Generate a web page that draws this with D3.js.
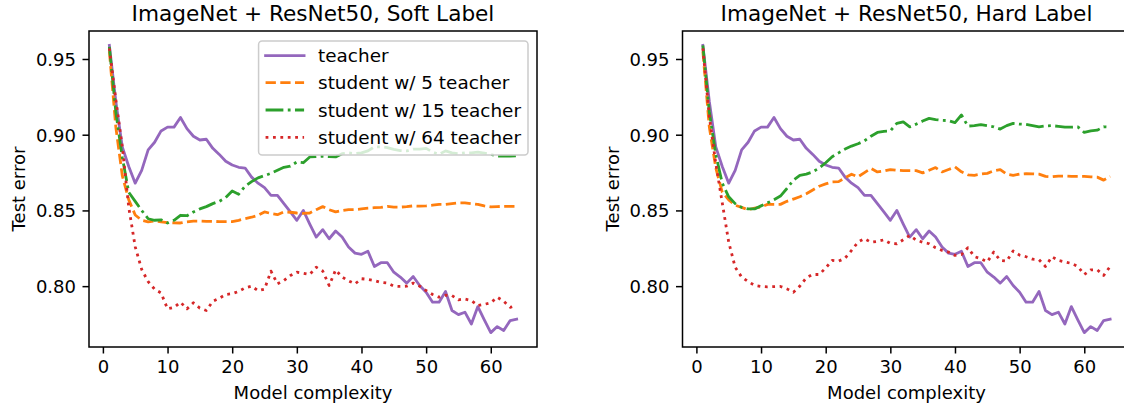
<!DOCTYPE html>
<html>
<head>
<meta charset="utf-8">
<script src="https://cdn.jsdelivr.net/npm/d3@7/dist/d3.min.js"></script>
<style>
  html, body { margin: 0; padding: 0; background: #fff; }
  svg { display: block; font-family: "DejaVu Sans", sans-serif; }
</style>
</head>
<body>
<svg id="chart" width="1124" height="406"></svg>
<script>
// ---------------- DATA ----------------
const complexity = d3.range(1, 65);

const teacher = [0.959,0.922,0.892,0.879,0.868,0.8765,0.890,0.895,0.9025,0.905,
  0.905,0.9114,0.904,0.899,0.8965,0.897,0.891,0.887,0.8825,0.880,
  0.8785,0.878,0.872,0.868,0.865,0.860,0.860,0.8545,0.849,0.8435,
  0.850,0.841,0.8324,0.8373,0.8313,0.8364,0.8324,0.8258,0.8218,0.821,
  0.823,0.813,0.8155,0.8155,0.8092,0.806,0.802,0.8064,0.8004,0.796,
  0.7894,0.7894,0.7965,0.7839,0.7812,0.7828,0.775,0.7865,0.7777,0.7693,
  0.7733,0.7707,0.7773,0.7782];

const softStudent5 = [0.955,0.905,0.873,0.857,0.847,0.8435,0.8425,0.843,0.8425,0.842,
  0.8418,0.8417,0.8425,0.843,0.843,0.8428,0.8428,0.8426,0.8426,0.8426,
  0.8435,0.8446,0.8455,0.8468,0.849,0.848,0.8472,0.849,0.8488,0.8483,
  0.848,0.8483,0.8505,0.8525,0.8505,0.849,0.850,0.8505,0.8505,0.851,
  0.8515,0.8518,0.852,0.8527,0.8522,0.8522,0.8525,0.853,0.8528,0.853,
  0.8535,0.854,0.854,0.8545,0.855,0.855,0.8545,0.854,0.853,0.8523,
  0.8525,0.8527,0.8527,0.8527];

const softStudent15 = [0.958,0.915,0.885,0.862,0.856,0.850,0.8445,0.8435,0.8438,0.8417,
  0.8435,0.8468,0.8465,0.849,0.851,0.8525,0.8545,0.856,0.8585,0.8628,
  0.8607,0.866,0.869,0.8715,0.873,0.8745,0.8765,0.8785,0.8792,0.882,
  0.8815,0.8853,0.8855,0.8858,0.8855,0.8853,0.8875,0.888,0.8875,0.888,
  0.8893,0.892,0.892,0.8915,0.8903,0.8895,0.8893,0.8905,0.8905,0.891,
  0.8885,0.8871,0.8893,0.888,0.8875,0.888,0.888,0.8885,0.8878,0.887,
  0.8858,0.8858,0.8858,0.886];

const softStudent64 = [0.957,0.923,0.892,0.852,0.826,0.811,0.803,0.798,0.7955,0.785,
  0.786,0.7894,0.785,0.789,0.7855,0.7839,0.790,0.792,0.7945,0.795,
  0.7965,0.7989,0.800,0.797,0.798,0.8099,0.8015,0.8037,0.807,0.8092,
  0.8085,0.8077,0.8125,0.810,0.8004,0.8107,0.806,0.8035,0.8015,0.8049,
  0.8045,0.8037,0.8025,0.802,0.800,0.7998,0.800,0.802,0.800,0.7971,
  0.7945,0.7927,0.794,0.7938,0.791,0.7915,0.7905,0.7872,0.788,0.789,
  0.7927,0.790,0.786,0.7872];

const hardStudent5 = [0.955,0.905,0.878,0.862,0.857,0.8534,0.852,0.8505,0.8515,0.8523,
  0.854,0.854,0.854,0.856,0.8575,0.859,0.861,0.8635,0.866,0.8675,
  0.8688,0.869,0.8715,0.8739,0.8722,0.875,0.8777,0.8754,0.876,0.877,
  0.8765,0.8763,0.8763,0.8763,0.8748,0.8765,0.8783,0.8754,0.877,0.8787,
  0.8755,0.8735,0.8732,0.874,0.8745,0.8762,0.877,0.874,0.8732,0.874,
  0.8743,0.8742,0.874,0.8725,0.8722,0.8727,0.8727,0.8725,0.8725,0.8725,
  0.8722,0.872,0.870,0.8725];

const hardStudent15 = [0.959,0.915,0.887,0.868,0.859,0.8545,0.852,0.851,0.851,0.853,
  0.855,0.857,0.8595,0.8645,0.870,0.8732,0.874,0.8755,0.878,0.8815,
  0.8855,0.888,0.8905,0.8925,0.894,0.896,0.899,0.9015,0.9022,0.9025,
  0.9075,0.9085,0.9052,0.907,0.909,0.9108,0.910,0.9095,0.9093,0.908,
  0.913,0.9057,0.906,0.9067,0.906,0.9052,0.9037,0.906,0.9075,0.907,
  0.9068,0.906,0.9052,0.9058,0.906,0.9055,0.905,0.905,0.9052,0.9015,
  0.9025,0.903,0.9052,0.905];

const hardStudent64 = [0.957,0.912,0.881,0.855,0.829,0.8125,0.806,0.803,0.8005,0.7998,
  0.7995,0.7997,0.7998,0.7982,0.796,0.800,0.8055,0.8077,0.8077,0.812,
  0.817,0.8165,0.8185,0.8236,0.8291,0.8313,0.829,0.8295,0.8306,0.8282,
  0.828,0.8306,0.8335,0.8304,0.829,0.828,0.8254,0.8236,0.8225,0.8203,
  0.8208,0.8254,0.8195,0.8181,0.816,0.8225,0.817,0.8165,0.8232,0.8205,
  0.8194,0.8178,0.8175,0.813,0.8194,0.817,0.816,0.815,0.813,0.8077,
  0.8108,0.8108,0.8071,0.813];

const seriesNames = ["teacher", "student w/ 5 teacher", "student w/ 15 teacher", "student w/ 64 teacher"];
const panelTitles = ["ImageNet + ResNet50, Soft Label", "ImageNet + ResNet50, Hard Label"];
const xTicks = [0, 10, 20, 30, 40, 50, 60];
const yTicks = [0.80, 0.85, 0.90, 0.95];
const xLabel = "Model complexity";
const yLabel = "Test error";

// ---------------- STYLE ----------------
const colors = ["#9467bd", "#ff7f0e", "#2ca02c", "#d62728"];
const dashes = [null, "10.3,4.4", "17.8,4.4,2.8,4.4", "2.8,4.6"];
const lw = 2.8;
const fontSize = 18;
const legendFont = 18.4;
const titleSize = 21.6;

const panels = [
  { left: 89, series: [teacher, softStudent5, softStudent15, softStudent64], legend: true },
  { left: 682.5, series: [teacher, hardStudent5, hardStudent15, hardStudent64], legend: false }
];
const axW = 448, axTop = 31, axBottom = 347;
const tickLen = 6.5, tickPad = 6.5;

const svg = d3.select("#chart");
svg.append("rect").attr("width", 1124).attr("height", 406).attr("fill", "#fff");

function marginDomain(lo, hi) {
  const m = (hi - lo) * 0.05;
  return [lo - m, hi + m];
}

panels.forEach((p, pi) => {
  const allVals = p.series.flat();
  const x = d3.scaleLinear()
    .domain(marginDomain(d3.min(complexity), d3.max(complexity)))
    .range([p.left, p.left + axW]);
  const y = d3.scaleLinear()
    .domain(marginDomain(d3.min(allVals), d3.max(allVals)))
    .range([axBottom, axTop]);

  const g = svg.append("g");

  // lines
  const line = d3.line().x((d, i) => x(complexity[i])).y(d => y(d));
  p.series.forEach((s, si) => {
    g.append("path")
      .datum(s)
      .attr("d", line)
      .attr("fill", "none")
      .attr("stroke", colors[si])
      .attr("stroke-width", lw)
      .attr("stroke-linejoin", "round")
      .attr("stroke-linecap", si === 0 ? "square" : "butt")
      .attr("stroke-dasharray", dashes[si]);
  });

  // axes
  const xAxis = d3.axisBottom(x).tickValues(xTicks).tickFormat(d3.format("d"))
    .tickSizeInner(tickLen).tickSizeOuter(0).tickPadding(tickPad);
  const yAxis = d3.axisLeft(y).tickValues(yTicks).tickFormat(d3.format(".2f"))
    .tickSizeInner(tickLen).tickSizeOuter(0).tickPadding(tickPad);

  const gx = g.append("g").attr("transform", `translate(0,${axBottom})`).call(xAxis);
  const gy = g.append("g").attr("transform", `translate(${p.left},0)`).call(yAxis);
  [gx, gy].forEach(ax => {
    ax.select(".domain").remove();
    ax.selectAll(".tick line").attr("stroke", "#000").attr("stroke-width", 1.5);
    ax.selectAll(".tick text").attr("fill", "#000")
      .attr("font-size", fontSize).attr("font-family", "DejaVu Sans");
  });
  gx.selectAll(".tick text").attr("dy", null).attr("y", null)
    .attr("transform", `translate(0,${tickLen + tickPad + 13.2})`);
  gy.selectAll(".tick text").attr("dy", "0.36em");

  // spines
  g.append("rect")
    .attr("x", p.left).attr("y", axTop)
    .attr("width", axW).attr("height", axBottom - axTop)
    .attr("fill", "none").attr("stroke", "#000").attr("stroke-width", 1.5);

  // title
  g.append("text")
    .attr("x", p.left + axW / 2).attr("y", 21)
    .attr("text-anchor", "middle")
    .attr("font-size", titleSize)
    .attr("fill", "#000")
    .text(panelTitles[pi]);

  // x label
  g.append("text")
    .attr("x", p.left + axW / 2).attr("y", 399)
    .attr("text-anchor", "middle")
    .attr("font-size", fontSize)
    .attr("fill", "#000")
    .text(xLabel);

  // y label
  g.append("text")
    .attr("transform", `translate(${p.left - 64},${(axTop + axBottom) / 2}) rotate(-90)`)
    .attr("text-anchor", "middle")
    .attr("font-size", fontSize)
    .attr("fill", "#000")
    .text(yLabel);

  // legend
  if (p.legend) {
    const lg = g.append("g");
    const rowY = [55.7, 82.7, 110, 137.3];
    const texts = seriesNames.map((n, i) =>
      lg.append("text").attr("font-size", legendFont).attr("fill", "#000")
        .attr("dy", "0.36em").attr("y", rowY[i]).text(n));
    const maxW = d3.max(texts, t => t.node().getComputedTextLength());
    const boxRight = p.left + axW - 9;
    const handleLen = 38.5, handlePad = 14, innerPad = 7;
    const boxW = innerPad + handleLen + handlePad + maxW + innerPad;
    const boxLeft = boxRight - boxW;
    lg.insert("rect", "text")
      .attr("x", boxLeft).attr("y", 41)
      .attr("width", boxW).attr("height", 114)
      .attr("rx", 3.5).attr("ry", 3.5)
      .attr("fill", "#fff").attr("fill-opacity", 0.8)
      .attr("stroke", "#cccccc").attr("stroke-width", 1.5);
    texts.forEach(t => t.attr("x", boxLeft + innerPad + handleLen + handlePad));
    seriesNames.forEach((n, i) => {
      lg.append("line")
        .attr("x1", boxLeft + innerPad).attr("x2", boxLeft + innerPad + handleLen)
        .attr("y1", rowY[i]).attr("y2", rowY[i])
        .attr("stroke", colors[i]).attr("stroke-width", lw)
        .attr("stroke-dasharray", dashes[i])
        .attr("stroke-linecap", i === 0 ? "square" : "butt");
    });
  }
});
</script>
</body>
</html>
